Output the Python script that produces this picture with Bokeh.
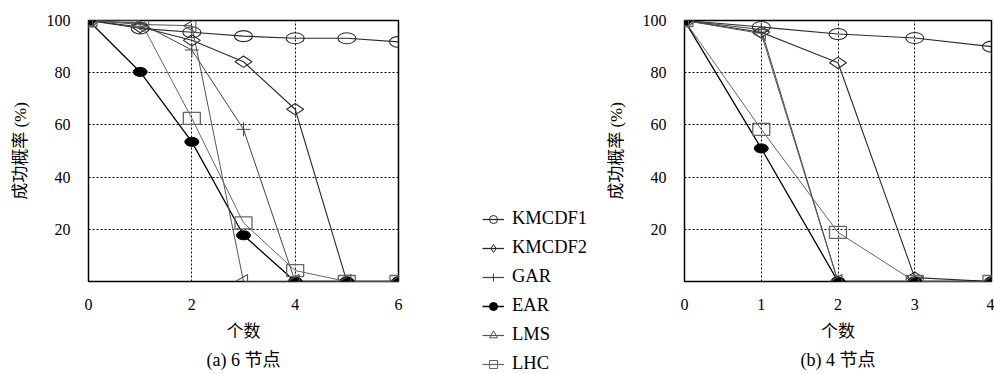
import math
from bokeh.plotting import figure
from bokeh.layouts import row, column
from bokeh.models import Range1d, FixedTicker, Title, Legend, LegendItem, ColumnDataSource
from bokeh.embed import file_html
from bokeh.resources import INLINE

# ---------------- data ----------------
series_names = ["KMCDF1", "KMCDF2", "GAR", "EAR", "LMS", "LHC"]

# (a) 6 nodes
x_6 = [0, 1, 2, 3, 4, 5, 6]
kmcdf1_6 = [100, 97, 95.5, 94, 93.2, 93.2, 91.8]
kmcdf2_6 = [100, 97.5, 92.4, 84.2, 66, 0, 0]
gar_6 = [100, 99, 88.7, 58.3, 0, 0, 0]
ear_6 = [100, 80.3, 53.5, 17.7, 0, 0, 0]
lms_6 = [100, 98.5, 98, 0, 0, 0, 0]
lhc_6 = [100, 100, 62.5, 22.5, 4.2, 0, 0]

# (b) 4 nodes
x_4 = [0, 1, 2, 3, 4]
kmcdf1_4 = [100, 97.5, 94.8, 93.3, 90]
kmcdf2_4 = [100, 95.5, 83.8, 1.5, 0]
gar_4 = [100, 96.5, 0, 0, 0]
ear_4 = [100, 51, 0, 0, 0]
lms_4 = [100, 95, 0, 0, 0]
lhc_4 = [100, 58.3, 18.8, 0, 0]

y_ticks = [20, 40, 60, 80, 100]
x_ticks_6 = [0, 2, 4, 6]
x_ticks_4 = [0, 1, 2, 3, 4]
y_label = "成功概率 (%)"
x_label = "个数"
caption_6 = "(a) 6 节点"
caption_4 = "(b) 4 节点"

# ---------------- styles ----------------
SERIF = "'Liberation Serif', 'Noto Sans CJK SC'"
colors = {"KMCDF1": "#2a2a2a", "KMCDF2": "#2a2a2a", "GAR": "#444444",
          "EAR": "#000000", "LMS": "#555555", "LHC": "#666666"}
widths = {"KMCDF1": 1.1, "KMCDF2": 1.1, "GAR": 1.0, "EAR": 1.3, "LMS": 1.0, "LHC": 1.0}
H = 374
TOP = 20
BOTTOM = 93


def make_plot(xs, data, xmax, xticks, caption, width, left, right):
    p = figure(width=width, height=H, output_backend="svg", toolbar_location=None,
               x_range=Range1d(0, xmax), y_range=Range1d(0, 100),
               min_border_left=left, min_border_right=right,
               min_border_top=TOP, min_border_bottom=BOTTOM)
    p.background_fill_color = None
    p.border_fill_color = None
    p.outline_line_color = "black"
    p.outline_line_width = 1.5

    p.xaxis.ticker = FixedTicker(ticks=xticks)
    p.yaxis.ticker = FixedTicker(ticks=y_ticks)
    for ax in (p.xaxis[0], p.yaxis[0]):
        ax.axis_line_color = None
        ax.major_tick_line_color = None
        ax.minor_tick_line_color = None
        ax.major_label_text_font = SERIF
        ax.major_label_text_font_size = "16px"
        ax.major_label_text_color = "black"
        ax.axis_label_text_font = SERIF
        ax.axis_label_text_font_size = "17px"
        ax.axis_label_text_font_style = "normal"
        ax.axis_label_text_color = "black"
    p.xaxis.major_label_standoff = 11
    p.yaxis.major_label_standoff = 12
    p.xaxis.axis_label = x_label
    p.yaxis.axis_label = y_label
    p.xaxis.axis_label_standoff = 9
    p.yaxis.axis_label_standoff = 14
    for g in (p.xgrid[0], p.ygrid[0]):
        g.grid_line_color = "black"
        g.grid_line_dash = "2 2"
        g.grid_line_width = 1
    p.xgrid.ticker = FixedTicker(ticks=xticks)
    p.ygrid.ticker = FixedTicker(ticks=y_ticks)

    for name in series_names:
        p.line(xs, data[name], line_color=colors[name], line_width=widths[name])

    c = colors
    p.ellipse(xs, data["KMCDF1"], width=18, height=11, width_units="screen",
              height_units="screen", fill_color=None, line_color=c["KMCDF1"], line_width=1.1)
    p.scatter(xs, data["KMCDF2"], marker="diamond", size=17, angle=math.pi / 2,
              fill_color=None, line_color=c["KMCDF2"], line_width=1.1)
    p.scatter(xs, data["GAR"], marker="cross", size=14, line_color=c["GAR"], line_width=1.0)
    p.ellipse(xs, data["EAR"], width=14, height=9, width_units="screen",
              height_units="screen", fill_color="black", line_color="black")
    p.scatter(xs, data["LMS"], marker="triangle", size=14, angle=math.pi / 2,
              fill_color=None, line_color=c["LMS"], line_width=1.1)
    p.rect(xs, data["LHC"], width=17, height=12, width_units="screen", height_units="screen",
           fill_color=None, line_color=c["LHC"], line_width=1.3)

    p.add_layout(Title(text=caption, align="center", text_font=SERIF,
                       text_font_size="18px", text_font_style="normal",
                       text_color="black", standoff=9), "below")
    return p


data_6 = dict(zip(series_names, [kmcdf1_6, kmcdf2_6, gar_6, ear_6, lms_6, lhc_6]))
data_4 = dict(zip(series_names, [kmcdf1_4, kmcdf2_4, gar_4, ear_4, lms_4, lhc_4]))

p1 = make_plot(x_6, data_6, 6, x_ticks_6, caption_6, 420, 88, 22)
p2 = make_plot(x_4, data_4, 4, x_ticks_4, caption_4, 404, 94, 3)

# ---------------- legend panel ----------------
pl = figure(width=170, height=H, output_backend="svg", toolbar_location=None,
            x_range=Range1d(0, 1), y_range=Range1d(0, 1),
            x_axis_location=None, y_axis_location=None, min_border=0)
pl.outline_line_color = None
pl.grid.visible = False
pl.background_fill_color = None
pl.border_fill_color = None

leg_markers = {
    "KMCDF1": dict(marker="circle", size=7, fill_color=None),
    "KMCDF2": dict(marker="diamond", size=9, angle=math.pi / 2, fill_color=None),
    "GAR": dict(marker="cross", size=9),
    "EAR": dict(marker="circle", size=7, fill_color="black"),
    "LMS": dict(marker="triangle", size=9, angle=math.pi / 2, fill_color=None),
    "LHC": dict(marker="square", size=7, fill_color=None),
}
items = []
for name in series_names:
    # legend proxies, kept outside the visible range
    src = ColumnDataSource(data=dict(x=[-5], y=[-5]))
    r1 = pl.line("x", "y", source=src, line_color=colors[name], line_width=widths[name] + 0.2)
    r2 = pl.scatter("x", "y", source=src, line_color=colors[name], line_width=1.0,
                    **leg_markers[name])
    items.append(LegendItem(label=name, renderers=[r1, r2]))

legend = Legend(items=items, location=(62, 0), orientation="vertical",
                glyph_width=22, glyph_height=20, label_height=20, spacing=8,
                label_standoff=8, padding=0, margin=0,
                border_line_color=None, background_fill_alpha=0,
                label_text_font=SERIF, label_text_font_size="18.5px",
                label_text_color="black")
pl.add_layout(legend)

layout = row(p1, column(pl), p2)
open("out.html", "w").write(file_html(layout, INLINE))
